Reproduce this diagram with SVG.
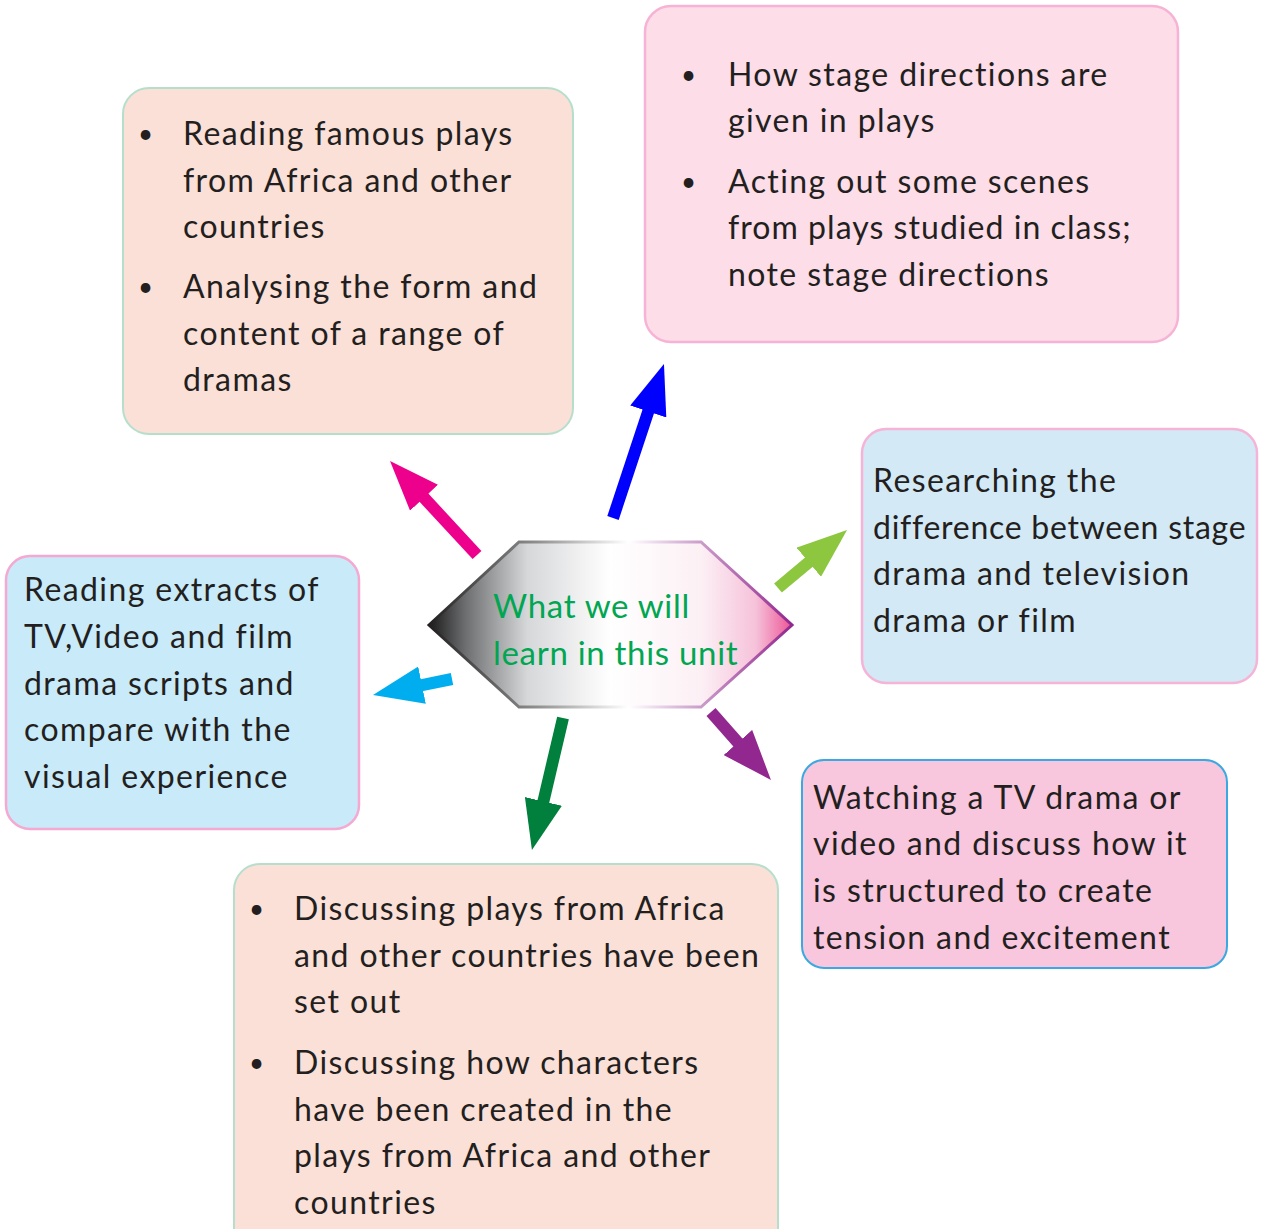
<svg xmlns="http://www.w3.org/2000/svg" width="1266" height="1229" viewBox="0 0 1266 1229">
<style>
.t{font-family:"Lato","Open Sans","Liberation Sans",sans-serif;font-size:32px;letter-spacing:1.4px;fill:#231f20}
.b{font-family:"Lato","Open Sans","Liberation Sans",sans-serif;font-size:26px;fill:#231f20}
.c{font-family:"Lato","Open Sans","Liberation Sans",sans-serif;font-size:33px;letter-spacing:0.7px;fill:#00a651}
.peach{fill:#fbe0d8;stroke:#b5dfcb;stroke-width:2}
.pink{fill:#fcdde8;stroke:#f7b3d6;stroke-width:2.5}
.blue{fill:#d4e9f6;stroke:#f5b4d7;stroke-width:2.5}
.cyan{fill:#c9eaf9;stroke:#f5a8d2;stroke-width:2.5}
.rose{fill:#f8c6dd;stroke:#3aa9e1;stroke-width:2}
.arr{stroke-width:12;fill:none}
</style>
<defs>
<linearGradient id="hf" x1="429" y1="0" x2="792" y2="0" gradientUnits="userSpaceOnUse">
<stop offset="0" stop-color="#1a1a1a"/>
<stop offset="0.1" stop-color="#6d6e70"/>
<stop offset="0.27" stop-color="#d6d7d9"/>
<stop offset="0.5" stop-color="#ffffff"/>
<stop offset="0.75" stop-color="#fcf0f5"/>
<stop offset="0.9" stop-color="#f6c2da"/>
<stop offset="1" stop-color="#ec5596"/>
</linearGradient>
<linearGradient id="hs" x1="429" y1="0" x2="792" y2="0" gradientUnits="userSpaceOnUse">
<stop offset="0" stop-color="#231f20"/>
<stop offset="0.3" stop-color="#909090"/>
<stop offset="0.55" stop-color="#ffffff"/>
<stop offset="0.7" stop-color="#d6b3d6"/>
<stop offset="1" stop-color="#92278f"/>
</linearGradient>
<marker id="mPink" markerUnits="userSpaceOnUse" markerWidth="50" markerHeight="38" refX="10" refY="19" orient="auto"><path d="M0,0 L50,19 L0,38 z" fill="#ec008c"/></marker>
<marker id="mBlue" markerUnits="userSpaceOnUse" markerWidth="50" markerHeight="38" refX="10" refY="19" orient="auto"><path d="M0,0 L50,19 L0,38 z" fill="#0000ff"/></marker>
<marker id="mLime" markerUnits="userSpaceOnUse" markerWidth="50" markerHeight="38" refX="10" refY="19" orient="auto"><path d="M0,0 L50,19 L0,38 z" fill="#8dc63f"/></marker>
<marker id="mCyan" markerUnits="userSpaceOnUse" markerWidth="50" markerHeight="38" refX="10" refY="19" orient="auto"><path d="M0,0 L50,19 L0,38 z" fill="#00aeef"/></marker>
<marker id="mGreen" markerUnits="userSpaceOnUse" markerWidth="50" markerHeight="38" refX="10" refY="19" orient="auto"><path d="M0,0 L50,19 L0,38 z" fill="#00803c"/></marker>
<marker id="mPurple" markerUnits="userSpaceOnUse" markerWidth="50" markerHeight="38" refX="10" refY="19" orient="auto"><path d="M0,0 L50,19 L0,38 z" fill="#92278f"/></marker>
</defs>
<rect width="1266" height="1229" fill="#ffffff"/>

<g id="connectors">
<line class="arr" x1="477" y1="555" x2="417.2" y2="490.4" stroke="#ec008c" marker-end="url(#mPink)"/>
<line class="arr" x1="613" y1="518" x2="651.4" y2="402" stroke="#0000ff" marker-end="url(#mBlue)"/>
<line class="arr" x1="778" y1="588" x2="816.4" y2="555.8" stroke="#8dc63f" marker-end="url(#mLime)"/>
<line class="arr" x1="452" y1="679" x2="412.2" y2="687.1" stroke="#00aeef" marker-end="url(#mCyan)"/>
<line class="arr" x1="563" y1="718" x2="541.1" y2="811.1" stroke="#00803c" marker-end="url(#mGreen)"/>
<line class="arr" x1="711" y1="712" x2="744.5" y2="750" stroke="#92278f" marker-end="url(#mPurple)"/>
</g>

<g id="center">
<polygon points="429,625 519,542 701,542 792,625 701,707 519,707" fill="url(#hf)" stroke="url(#hs)" stroke-width="3"/>
<text class="c" x="493" y="618">What we will</text>
<text class="c" x="493" y="665">learn in this unit</text>
</g>

<g id="box-reading-plays">
<rect class="peach" x="123" y="88" width="450" height="346" rx="26"/>
<text class="b" x="138" y="143">•</text>
<text class="t" x="183" y="145">Reading famous plays</text>
<text class="t" x="183" y="192">from Africa and other</text>
<text class="t" x="183" y="238">countries</text>
<text class="b" x="138" y="296">•</text>
<text class="t" x="183" y="298">Analysing the form and</text>
<text class="t" x="183" y="345">content of a range of</text>
<text class="t" x="183" y="391">dramas</text>
</g>

<g id="box-stage-directions">
<rect class="pink" x="645" y="6" width="533" height="336" rx="26"/>
<text class="b" x="681" y="84">•</text>
<text class="t" x="728" y="86">How stage directions are</text>
<text class="t" x="728" y="132">given in plays</text>
<text class="b" x="681" y="191">•</text>
<text class="t" x="728" y="193">Acting out some scenes</text>
<text class="t" x="728" y="239" textLength="404" lengthAdjust="spacing">from plays studied in class;</text>
<text class="t" x="728" y="286">note stage directions</text>
</g>

<g id="box-researching">
<rect class="blue" x="862" y="429" width="395" height="254" rx="24"/>
<text class="t" x="873" y="492">Researching the</text>
<text class="t" x="873" y="539" textLength="374" lengthAdjust="spacing">difference between stage</text>
<text class="t" x="873" y="585">drama and television</text>
<text class="t" x="873" y="632">drama or film</text>
</g>

<g id="box-extracts">
<rect class="cyan" x="6" y="556" width="353" height="273" rx="24"/>
<text class="t" x="24" y="601">Reading extracts of</text>
<text class="t" x="24" y="648">TV,Video and film</text>
<text class="t" x="24" y="695">drama scripts and</text>
<text class="t" x="24" y="741">compare with the</text>
<text class="t" x="24" y="788">visual experience</text>
</g>

<g id="box-watching">
<rect class="rose" x="802" y="760" width="425" height="208" rx="22"/>
<text class="t" x="813" y="809">Watching a TV drama or</text>
<text class="t" x="813" y="855">video and discuss how it</text>
<text class="t" x="813" y="902">is structured to create</text>
<text class="t" x="813" y="949">tension and excitement</text>
</g>

<g id="box-discussing">
<rect class="peach" x="234" y="864" width="544" height="390" rx="26"/>
<text class="b" x="249" y="918">•</text>
<text class="t" x="294" y="920">Discussing plays from Africa</text>
<text class="t" x="294" y="967">and other countries have been</text>
<text class="t" x="294" y="1013">set out</text>
<text class="b" x="249" y="1072">•</text>
<text class="t" x="294" y="1074">Discussing how characters</text>
<text class="t" x="294" y="1121">have been created in the</text>
<text class="t" x="294" y="1167">plays from Africa and other</text>
<text class="t" x="294" y="1214">countries</text>
</g>
</svg>
